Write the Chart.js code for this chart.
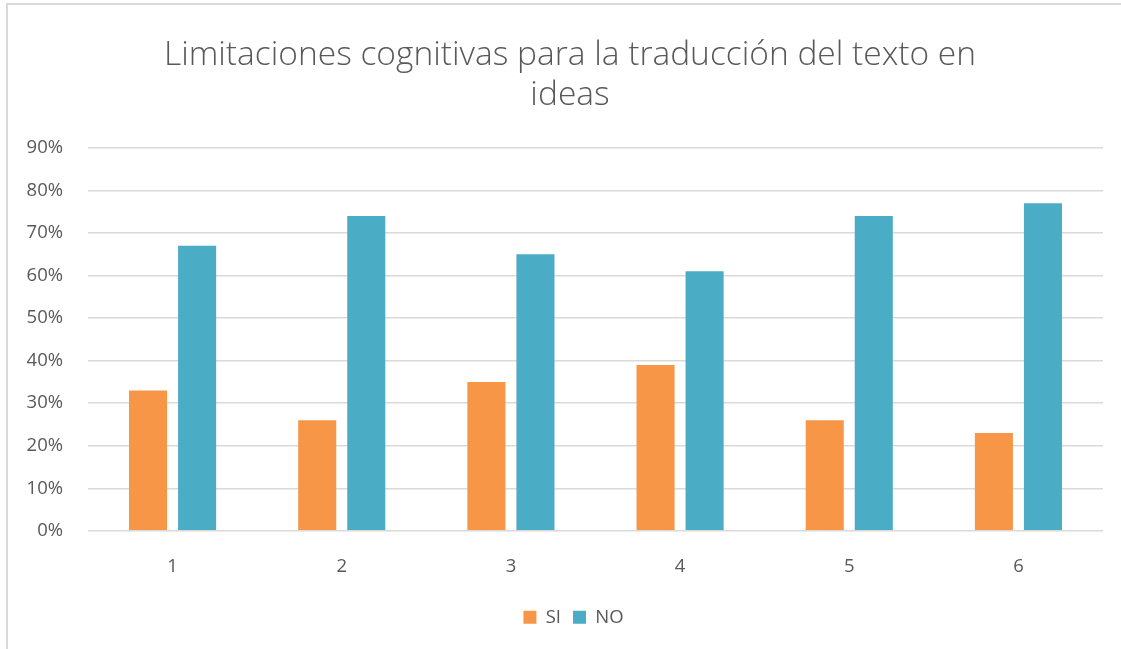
<!DOCTYPE html>
<html>
<head>
<meta charset="utf-8">
<script src="https://cdn.jsdelivr.net/npm/chart.js@4.4.1/dist/chart.umd.min.js"></script>
<style>
  html, body { margin: 0; padding: 0; background: #ffffff; }
  #wrap { position: relative; width: 1121px; height: 649px; }
</style>
</head>
<body>
<div id="wrap"><canvas id="c" width="1121" height="649"></canvas></div>
<script>
const titleLines = ["Limitaciones cognitivas para la traducción del texto en", "ideas"];
const categories = ["1", "2", "3", "4", "5", "6"];
const seriesNames = ["SI", "NO"];
const siValues = [33, 26, 35, 39, 26, 23];
const noValues = [67, 74, 65, 61, 74, 77];
const yTicks = [0, 10, 20, 30, 40, 50, 60, 70, 80, 90];

const FONT = "'Open Sans', 'Liberation Sans', sans-serif";
const TEXT = '#595959';

const frame = {
  id: 'frame',
  beforeDraw(chart) {
    const ctx = chart.ctx;
    ctx.save();
    ctx.fillStyle = '#ffffff';
    ctx.fillRect(0, 0, chart.width, chart.height);
    ctx.strokeStyle = '#d9d9d9';
    ctx.lineWidth = 2;
    ctx.beginPath();
    ctx.moveTo(7, chart.height);
    ctx.lineTo(7, 4);
    ctx.lineTo(chart.width, 4);
    ctx.stroke();
    ctx.restore();
  }
};

const titleDraw = {
  id: 'titleDraw',
  afterDraw(chart) {
    const ctx = chart.ctx;
    ctx.save();
    ctx.fillStyle = TEXT;
    ctx.font = "300 33.5px " + FONT;
    ctx.textAlign = 'center';
    ctx.textBaseline = 'middle';
    ctx.fillText(titleLines[0], 570, 55);
    ctx.fillText(titleLines[1], 570, 95);
    ctx.restore();
  }
};

const legendPlace = {
  id: 'legendPlace',
  beforeLayout(chart) {
    const lg = chart.legend;
    if (lg && !lg._fixedFit) {
      const orig = lg.fit.bind(lg);
      lg.fit = function () { orig(); this.height = 34; };
      lg._fixedFit = true;
    }
  },
  afterLayout(chart) {
    const lg = chart.legend;
    if (lg) {
      lg.left += 17;
      lg.right += 17;
      lg.top -= 7;
      lg.bottom -= 7;
      if (lg.adjustHitBoxes) lg.adjustHitBoxes();
    }
  }
};

new Chart(document.getElementById('c'), {
  type: 'bar',
  data: {
    labels: categories,
    datasets: [
      { label: seriesNames[0], data: siValues, backgroundColor: '#F79646', borderWidth: 0 },
      { label: seriesNames[1], data: noValues, backgroundColor: '#4BACC6', borderWidth: 0 }
    ]
  },
  options: {
    responsive: false,
    animation: false,
    devicePixelRatio: 1,
    categoryPercentage: 0.58,
    barPercentage: 0.776,
    layout: { padding: { top: 148, left: 10, right: 18, bottom: 12 } },
    plugins: {
      title: { display: false },
      legend: {
        position: 'bottom',
        labels: {
          color: TEXT,
          font: { family: FONT, size: 18.5 },
          boxWidth: 13,
          boxHeight: 13,
          padding: 12
        }
      },
      tooltip: { enabled: false }
    },
    scales: {
      x: {
        grid: { display: false, drawTicks: false },
        border: { display: false },
        ticks: { color: TEXT, font: { family: FONT, size: 18.5 }, padding: 25 }
      },
      y: {
        min: 0,
        max: 90,
        afterFit(scale) { scale.width = 78; },
        afterBuildTicks(scale) { scale.ticks = yTicks.map(v => ({ value: v })); },
        grid: { color: '#d9d9d9', lineWidth: 1.5, drawTicks: false },
        border: { display: false },
        ticks: {
          color: TEXT,
          font: { family: FONT, size: 18.5 },
          padding: 25,
          callback: v => v + '%'
        }
      }
    }
  },
  plugins: [frame, titleDraw, legendPlace]
});
</script>
</body>
</html>
